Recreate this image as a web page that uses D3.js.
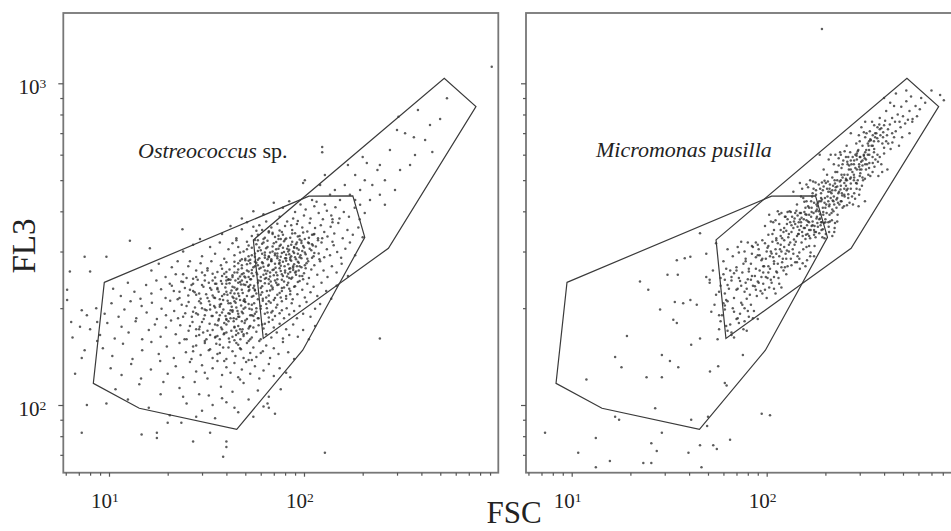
<!DOCTYPE html>
<html><head><meta charset="utf-8">
<script src="https://cdn.jsdelivr.net/npm/d3@7"></script>
<style>html,body{margin:0;padding:0;background:#fff;overflow:hidden}</style>
</head><body>
<svg id="chart" width="951" height="531"></svg>
<script>
// ---- data ----
const xMajorTicks = [10, 100];
const xMinorTicks = [6,7,8,9,20,30,40,50,60,70,80,90,200,300,400,500,600,700,800,900];
const yMajorTicks = [100, 1000];
const yMinorTicks = [70,80,90,200,300,400,500,600,700,800,900];
const xAxisLabel = "FSC";
const yAxisLabel = "FL3";
const titleItalic = ["Ostreococcus", "Micromonas pusilla"];
const titlePlain = [" sp.", ""];
// gates (FSC, FL3)
const gateA = [[9.46,240.6],[106,446],[178,447],[205,332],[98.5,148],[45.2,84],[14.3,97.7],[8.31,116.8]];
const gateB = [[55,326],[524,1036],[762,846],[271,307],[61.8,161]];

// Ostreococcus sp. events (FSC, FL3)
const ostreoPoints = [
[541,898],[499,775],[455,612],[366,680],[330,700],[300,716],[305,787],[384,826],[418,666],[350,557],[276,620],[245,557],[260,500],[210,565],[238,538],[200,590],[224,483],[183,519],[293,466],[194,466],[162,483],[172,450],[144,466],[153,434],[124,634],[194,419],[218,434],[136,450],[121,483],[110,434],[245,450],[311,538],[371,599],[443,742],[205,500],[168,557],[101,500],[128,519],[260,419],[183,434],[99,490],[124,610],[918,1126],[245,161],
[70,425],[78,410],[84,430],[90,398],[96,420],[102,405],[108,380],[113,415],[119,395],[125,378],[131,402],[138,388],[145,412],[152,380],[160,398],[170,385],[182,410],[193,378],[62,392],[88,380],[100,388],[116,428],[128,420],[140,378],[205,395],[75,385],[55,400],[48,380],
[38,340],[42,360],[45,330],[48,352],[51,370],[54,335],[57,348],[59,362],[62,328],[64,372],[66,344],[68,356],[71,333],[73,366],[75,349],[78,338],[80,360],[82,372],[85,331],[87,350],[90,342],[92,365],[95,335],[98,356],[101,328],[104,346],[107,368],[110,338],[114,355],[118,330],[122,362],[127,345],[132,334],[137,358],[143,341],[150,368],[158,330],[167,350],[178,338],[190,356],[200,332],[86,362],[76,328],[69,340],[93,373],[113,340],[61,350],[124,330],[140,370],[55,358],
[24,300],[27,315],[30,290],[33,310],[35,295],[37,320],[39,285],[41,305],[43,318],[44,292],[46,310],[48,284],[49,300],[51,322],[52,290],[54,308],[56,296],[57,316],[59,286],[60,303],[62,320],[63,292],[65,310],[67,298],[68,284],[70,318],[72,305],[73,290],[75,312],[77,297],[79,323],[80,286],[82,306],[84,294],[86,315],[88,300],[90,288],[92,320],[94,304],[96,292],[99,312],[101,298],[104,285],[106,318],[109,303],[112,290],[115,311],[119,296],[123,320],[127,288],[131,305],[136,292],[142,314],[148,299],[155,287],[163,306],[172,320],[183,292],[58,325],[66,290],[78,308],[85,283],[97,324],[110,316],[45,325],[53,283],[71,296],[89,310],[120,284],[140,322],
[16.5,262],[18,275],[19.5,250],[21,268],[22.5,280],[24,255],[25.5,270],[27,247],[28,262],[29.5,276],[31,253],[32,266],[33.5,280],[35,249],[36,259],[37.5,272],[39,256],[40,278],[41.5,264],[43,250],[44,270],[45.5,258],[47,281],[48,266],[49.5,251],[51,274],[52,260],[53.5,246],[55,268],[56,279],[57.5,255],[59,265],[60,250],[61.5,276],[63,262],[64,248],[65.5,271],[67,258],[68,280],[70,253],[71.5,267],[73,246],[74.5,275],[76,261],[78,252],[79.5,270],[81,281],[83,256],[85,266],[87,249],[89,274],[91,260],[93,279],[95,252],[97,268],[100,257],[103,276],[106,248],[109,264],[113,272],[117,254],[121,280],[126,262],[132,250],[139,270],[147,258],[156,275],[168,252],[42,245],[50,282],[58,272],[66,246],[75,282],[84,248],[92,270],[99,246],[38,265],[46,276],[54,257],[62,269],[69,263],[80,258],[88,263],[30,258],[26,280],
[10.5,230],[11.5,218],[12.5,240],[13.5,225],[14.5,214],[15.5,236],[16.5,222],[17.5,244],[18.5,229],[19.5,215],[20.5,238],[21.5,226],[22.5,213],[23.5,242],[24.5,231],[25.5,219],[26.5,236],[27.5,224],[28.5,245],[29.5,214],[30.5,233],[31.5,221],[32.5,240],[33.5,228],[34.5,216],[35.5,238],[36.5,225],[37.5,243],[38.5,212],[39.5,232],[40.5,220],[41.5,239],[42.5,227],[43.5,215],[44.5,244],[45.5,230],[46.5,218],[47.5,237],[48.5,223],[49.5,213],[51,241],[52.5,228],[54,217],[55.5,235],[57,222],[58.5,244],[60,231],[61.5,214],[63,239],[64.5,226],[66,219],[67.5,242],[69,229],[71,215],[73,236],[75,223],[77,245],[79,232],[81,218],[83,240],[85,226],[87.5,213],[90,234],[92.5,221],[95,243],[98,228],[101,216],[104,238],[108,224],[112,233],[117,218],[123,240],[130,226],[138,214],[147,235],[44,222],[52,233],[60,220],[36,231],[28,220],[68,235],[76,216],[56,228],[40,244],[48,244],
[8.6,200],[9.5,192],[10.3,207],[11.2,188],[12,198],[12.9,210],[13.8,186],[14.7,203],[15.6,194],[16.6,208],[17.6,185],[18.6,199],[19.6,190],[20.6,211],[21.6,196],[22.6,186],[23.6,205],[24.6,193],[25.6,209],[26.6,188],[27.6,201],[28.6,191],[29.6,207],[30.6,185],[31.6,197],[32.6,210],[33.6,189],[34.6,203],[35.6,194],[36.6,185],[37.6,206],[38.6,198],[39.6,189],[40.6,211],[41.6,192],[42.6,202],[43.6,186],[44.6,208],[45.6,196],[46.6,188],[47.6,204],[48.6,193],[49.6,210],[51,185],[52.5,199],[54,190],[55.5,207],[57,195],[58.5,186],[60,203],[61.5,211],[63,192],[64.5,200],[66,187],[67.5,208],[69,196],[71,189],[73,205],[75,193],[77,210],[79,186],[81.5,200],[84,191],[86.5,207],[89,196],[92,186],[95,203],[99,192],[103,209],[108,188],[114,199],[121,206],[27,195],[35,201],[43,197],[50,201],[31,190],[57,200],[65,194],[40,184],
[8,172],[9,165],[9.8,180],[10.7,161],[11.6,175],[12.6,168],[13.7,182],[14.8,160],[16,171],[17.2,178],[18.4,163],[19.6,174],[20.8,183],[22,166],[23.2,177],[24.4,160],[25.6,170],[26.8,181],[28,164],[29.2,175],[30.4,168],[31.6,160],[32.8,179],[34,171],[35.2,163],[36.4,183],[37.6,174],[38.8,166],[40,178],[41.2,161],[42.4,170],[43.6,182],[44.8,165],[46,176],[47.2,160],[48.4,172],[49.6,180],[51,167],[52.5,175],[54,162],[55.5,183],[57,169],[58.5,177],[60,160],[62,173],[64,166],[66,181],[68,162],[70,174],[72.5,168],[75,179],[78,161],[81,172],[84,165],[88,178],[93,163],[99,171],[106,160],[114,176],[29,172],[37,160],[45,170],[53,160],[61,178],[33,165],[41,182],[49,164],
[9.3,150],[10.4,142],[11.8,155],[13.2,139],[14.8,148],[16.5,157],[18,144],[19.8,152],[21.5,140],[23,156],[24.8,146],[26.5,139],[28,153],[29.5,143],[31,158],[32.5,148],[34,140],[35.5,155],[37,145],[38.5,151],[40,139],[41.5,157],[43,147],[44.5,142],[46,154],[47.5,149],[49,140],[51,156],[53,145],[55,151],[57,141],[59,158],[61.5,147],[64,153],[67,140],[70,150],[74,144],[78,157],[83,146],[89,139],[36,144],[44,159],[52,138],[27,147],[60,145],
[10.2,130],[11.6,124],[13,134],[14.6,121],[16.4,129],[18.3,137],[20,125],[22,132],[24,122],[26,136],[28,127],[30,133],[32,121],[34,130],[36,137],[38,124],[40,131],[42,126],[44,135],[46,122],[48,129],[50.5,136],[53,125],[56,132],[59,121],[62,128],[66,134],[70,123],[75,130],[81,126],[39,137],[47,120],[31,126],[54,138],[85,122],
[10.8,112],[12.5,104],[14.3,116],[16,98],[18.4,108],[20.5,93],[23,113],[25,101],[27.5,118],[30,96],[32.5,107],[35,91],[37.5,114],[40,102],[43,110],[46,95],[49,117],[52,104],[55,92],[58,111],[62,99],[66,106],[71,94],[76,112],[29,108],[34,100],[44,98],[38,105],[19,118],[24,106],
[14.7,81],[17.6,82],[17.6,79],[27,77],[33,82],[40,77],[40,74],[38.5,69],[65,101],[66,98],[128,71],[7.25,82],[7.7,100],[9.7,101],[23.5,88],[20,88],[28,92],
[7.25,197],[7.7,190],[6.4,181],[6.1,228],[6.1,212],[6.5,162],[7.25,140],[6.7,125],[7.5,148],[8.7,158],[6.3,260],[8,260],[7.1,175],[8.7,181],[7.5,289],[9.7,289],[12.8,324],[16.2,307],[23.8,352],[29.3,328],
[58,338],[63,331],[69,343],[74,336],[81,329],[87,341],[93,334],[99,344],[106,331],[112,339],[66,347],[77,345],
[52,313],[56,326],[61,317],[65,324],[69,311],[72,321],[76,315],[80,327],[83,312],[87,322],[91,316],[95,327],[100,309],[105,320],[111,313],[118,325],[59,309],[74,328],[89,308],[97,319],
[47,298],[51,305],[54,292],[58,301],[61,295],[64,307],[66,288],[69,300],[71,292],[74,306],[76,289],[79,299],[81,293],[84,304],[86,290],[89,297],[92,307],[95,288],[98,301],[102,294],[107,306],[113,297],[56,289],[63,298],[73,296],[83,300],[93,295],
[44,279],[48,272],[50,285],[53,276],[56,270],[58,283],[61,278],[63,287],[66,273],[68,281],[71,275],[73,286],[76,271],[78,279],[81,286],[83,274],[86,281],[88,270],[91,284],[94,277],[97,286],[101,272],[105,280],[110,287],[57,277],[65,284],[75,277],[85,287],[95,270],[52,281],
[40,259],[43,253],[46,264],[49,257],[52,250],[54,263],[57,258],[60,267],[62,254],[65,261],[67,251],[70,264],[72,258],[75,266],[77,255],[80,262],[82,251],[85,259],[88,267],[91,254],[94,262],[98,252],[102,266],[55,252],[73,253],[90,258],[64,256],[84,265],[47,251],
[38,238],[41,245],[44,232],[47,241],[50,236],[53,246],[55,231],[58,240],[61,234],[63,247],[66,238],[69,232],[71,244],[74,237],[77,231],[79,242],[82,236],[86,247],[89,233],[93,241],[46,247],[60,243],[72,240],[84,230],[52,233],
[34,219],[37,213],[40,225],[43,217],[46,222],[49,211],[52,226],[55,218],[58,213],[61,224],[64,216],[67,227],[70,212],[73,220],[77,226],[81,214],[85,221],[45,214],[56,227],[66,210],
[33,198],[37,205],[41,193],[45,201],[48,195],[52,206],[56,192],[60,199],[64,206],[68,194],[72,201],[77,197],[42,207],[54,198],
[35,178],[40,185],[44,174],[48,182],[53,176],[58,186],[63,179],[69,184],[46,188],[38,172],
[22,255],[24,241],[26,228],[28,250],[30,236],[32,262],[34,244],[36,229],[38,252],[40,238],[42,223],[44,258],[46,240],[48,228],[50,249],[53,236],[23,215],[25,203],[27,226],[29,210],[31,198],[33,231],[35,215],[37,202],[39,221],[41,207],[43,195],[45,228],[47,212],[49,199],[51,218],[54,205],[24,188],[26,176],[28,193],[30,181],[32,170],[34,189],[36,177],[38,194],[40,168],[42,186],[44,175],[46,192],[48,169],[50,183],[52,173],[55,189],[25,160],[27,152],[29,165],[31,156],[33,149],[35,162],[37,154],[39,167],[41,151],[43,163],[45,156],[47,150],[49,166],[52,158],[21,235],[23,225],[25,248],[27,238],[29,222],[31,244],[33,205],[35,238],[37,190],[39,180],[41,246],[43,233],[45,185],[47,172],[49,237],[51,262],[53,190],[55,174],[28,172],[30,200],[32,215],[34,256],[36,164],[38,218],[40,250],[42,197],[44,210],[46,167],[48,255],[50,209]
];

// Micromonas pusilla events (FSC, FL3)
const microPoints = [
[192,1476],
[400,900],[430,870],[460,930],[490,845],[520,880],[550,910],[470,800],[500,790],[540,820],[580,850],[610,830],[440,780],[410,820],[520,950],[590,790],[650,870],[775,920],[810,885],[700,950],[480,760],[560,775],[450,850],[620,900],[380,780],[530,770],
[270,700],[288,650],[306,730],[320,680],[333,640],[347,760],[360,700],[374,660],[387,725],[400,630],[414,690],[428,745],[441,655],[459,710],[477,640],[495,680],[513,750],[324,620],[356,625],[378,745],[405,765],[432,625],[455,760],[486,730],[297,690],[338,710],[369,675],[392,650],[419,720],[450,680],[356,740],[320,760],[257,640],[540,700],[558,760],[315,705],[383,690],[410,660],[342,665],[396,705],
[196,540],[208,580],[217,510],[225,600],[234,555],[242,520],[251,615],[259,570],[268,505],[276,590],[285,545],[293,615],[302,525],[310,575],[319,505],[327,560],[336,600],[349,530],[361,580],[374,515],[387,560],[400,605],[416,540],[230,530],[247,575],[264,540],[281,510],[298,560],[315,600],[332,520],[238,610],[255,505],[272,560],[289,595],[306,540],[323,580],[340,515],[357,550],[221,560],[213,600],[370,600],[255,590],[293,500],[268,610],[323,540],[242,545],[281,575],[310,510],[349,590],[204,520],[391,530],[187,600],[234,585],[302,590],[336,565],
[137,460],[143,420],[148,490],[154,440],[158,410],[163,475],[169,430],[173,495],[179,450],[182,415],[188,470],[192,435],[198,498],[202,420],[207,460],[211,485],[217,405],[221,445],[226,475],[232,425],[237,495],[243,455],[249,415],[255,480],[262,440],[270,470],[277,420],[287,490],[298,450],[308,480],[319,430],[152,470],[160,430],[167,500],[175,425],[185,485],[194,410],[204,470],[213,440],[223,500],[233,455],[245,410],[257,465],[266,425],[281,455],[296,415],[312,500],[179,465],[190,455],[199,440],[209,415],[219,480],[228,435],[239,468],[251,445],[196,478],[207,430],[186,430],[228,410],[217,465],[171,445],[258,500],[163,415],[274,445],[201,490],[242,430],[222,420],[192,492],[181,405],[289,470],
[98,360],[103,390],[107,340],[111,375],[114,400],[118,350],[120,330],[124,385],[127,365],[130,340],[133,398],[137,355],[139,380],[143,335],[146,370],[148,395],[152,345],[155,378],[158,328],[161,362],[165,390],[168,350],[172,372],[175,338],[179,400],[183,358],[188,380],[193,332],[197,368],[203,395],[209,345],[216,375],[223,355],[231,390],[105,372],[112,330],[119,395],[126,348],[132,370],[138,327],[144,388],[150,360],[156,398],[162,340],[169,385],[176,360],[186,342],[195,398],[207,370],[217,335],[116,365],[123,355],[135,385],[147,350],[160,375],[174,395],[189,362],[201,340],[142,402],[129,332],[167,330],[181,385],[153,335],[109,350],[140,365],[165,370],[191,350],[102,338],[134,345],[158,392],[210,390],[224,368],[179,345],[128,398],[148,377],
[67,290],[71,310],[76,275],[80,320],[84,295],[88,265],[91,305],[95,285],[98,318],[102,270],[105,300],[109,280],[112,325],[116,290],[119,268],[123,310],[126,285],[130,300],[134,272],[139,315],[144,290],[148,265],[154,305],[161,282],[168,298],[83,275],[90,315],[97,270],[104,290],[111,305],[118,315],[125,295],[132,320],[140,278],[151,320],[77,300],[60,280],[63,305],[70,268],[100,300],[107,322],[114,275],[121,285],[128,270],[137,295],[92,292],[85,310],[104,265],[112,295],[147,285],[158,270],[49,295],[55,318],[78,285],[95,325],[123,325],[136,305],[109,275],[74,322],[88,288],[102,312],[119,300],[165,312],[175,290],[62,265],
[51,240],[55,220],[60,255],[64,230],[68,215],[72,248],[77,225],[81,260],[85,235],[89,218],[94,250],[98,228],[102,258],[106,240],[111,222],[115,248],[119,232],[126,255],[53,262],[58,235],[62,212],[66,250],[71,230],[75,258],[79,214],[83,245],[88,228],[92,262],[96,238],[100,215],[105,245],[109,230],[113,258],[61,245],[70,262],[78,240],[87,252],[95,222],[57,225],[74,235],[82,220],[99,250],[65,262],[49,250],[91,240],
[54,205],[59,190],[63,210],[68,195],[72,180],[77,200],[81,188],[57,172],[61,198],[66,165],[70,185],[75,205],[79,170],[56,160],[65,178],[60,207],[86,196],[90,185],[68,162],[73,192],[63,170],[77,182],[58,182],[83,205],[52,195],
[31,254],[35,254],[22.4,242],[24.7,228],[33.8,209],[37.3,207],[40.6,212],[43.8,205],[28.4,198],[33.2,184],[34.6,180],[19.2,164],[45.5,161],[16.7,141],[29,143],[31.9,137],[18,131],[35.2,131],[24.2,122],[29,122],[51.2,127],[56.4,132],[61,117],[62.3,115],[75.5,143],[11.9,120],[26.8,97.7],[16.7,92],[17.5,90],[41,90],[7.3,82],[13.3,79],[29,82],[25.6,76],[27.3,72],[39.7,71],[45.5,75],[53.2,75],[55.5,73],[64.9,78],[10.8,71],[15.7,67],[23.3,66],[25.6,66],[13.3,64],[46.3,64],[94.3,94],[104,93],[49.5,86],[50,92],[41,154],[51,245],[40.6,289],[45.5,342],[34.6,282],[38,286],
[225,530],[245,560],[262,590],[280,520],[298,550],[318,585],[335,545],[355,610],[372,570],[250,520],[290,605],[330,600],[270,575],[310,555],[350,565],[240,600],[300,515],[380,590],
[150,445],[160,485],[172,455],[183,425],[194,465],[206,495],[218,432],[230,478],[244,448],[258,418],[270,488],[284,438],[300,468],[165,410],[178,492],[190,440],[212,460],[236,420],[250,470],[262,452],[224,488],[198,425],[174,470],[240,500],[290,488],[156,428],
[108,370],[116,392],[122,345],[128,378],[134,362],[140,395],[146,340],[151,382],[157,355],[163,372],[170,398],[176,345],[182,368],[188,392],[194,352],[200,378],[208,358],[215,395],[222,345],[118,335],[131,400],[144,358],[159,338],[172,362],[186,378],[198,330],[211,372],[125,385],[150,395],[178,332],[138,372],[165,350],[192,370],[230,372],
[72,298],[78,280],[84,312],[90,292],[96,270],[101,308],[108,288],[114,318],[120,278],[127,302],[133,285],[141,322],[147,298],[153,276],[160,310],[167,290],[176,312],[88,320],[94,282],[106,296],[117,305],[130,315],[143,278],[81,265],[99,285],[124,268],
[58,248],[63,236],[68,257],[73,243],[79,230],[84,252],[90,242],[96,258],[103,232],[109,250],[116,238],[122,262],[61,222],[70,228],[80,246],[93,226],[101,248],[112,260],[66,244],[87,234],
[57,190],[62,176],[67,200],[71,186],[76,172],[80,196],[85,186],[61,204],[74,208],[66,168],
[300,660],[325,700],[350,640],[370,730],[395,680],[420,650],[360,680],[440,700],[400,740],[335,660],
[145,340],[155,355],[165,335],[150,370],[170,360],[180,380],[160,390],[175,350],[190,370],[185,400],[200,410],[195,390],[210,420],[205,445],[220,430],[215,455],[230,440],[225,465],[240,480],[235,460],[250,490],[245,510],[260,520],[255,500],[270,540],[265,555],[280,560],[275,530],[290,580],[285,600],[300,590],[295,620],[310,640],[320,610],[330,650],[340,670],[350,690],[335,620],[305,570],[260,470],[220,400],[190,430],[170,410],[240,430],[280,500],[300,540],[320,560],[200,370],[180,420],[230,500],[260,560],[290,540],[345,640],[365,700],[380,720],[210,470],[250,450],[270,510],[315,595],[355,660]
];

// ---- layout ----
const svg = d3.select("#chart");
const W = 435, H = 459.7, TOP = 13;
const panelLeft = [63.3, 526];
const x = d3.scaleLog().domain([5.83, 992]).range([0, W]);
const y = d3.scaleLog().domain([61.6, 1654]).range([H, 0]);
const serif = "'Liberation Serif','Times New Roman',serif";
const line = d3.line().x(d => x(d[0])).y(d => y(d[1])).curve(d3.curveLinearClosed);
const datasets = [ostreoPoints, microPoints];

panelLeft.forEach((px, i) => {
  const g = svg.append("g").attr("transform", `translate(${px},${TOP})`);

  // dots
  g.append("g").selectAll("circle").data(datasets[i]).join("circle")
    .attr("cx", d => x(d[0])).attr("cy", d => y(d[1]))
    .attr("r", 1.25).attr("fill", "#2e2e2e").attr("fill-opacity", 0.78);

  // gates
  [gateA, gateB].forEach(gate => {
    g.append("path").attr("d", line(gate))
      .attr("fill", "none").attr("stroke", "#3a3a3a").attr("stroke-width", 1.2)
      .attr("stroke-linejoin", "miter");
  });

  // frame
  g.append("rect").attr("x", 0).attr("y", 0).attr("width", W).attr("height", H)
    .attr("fill", "none").attr("stroke", "#777").attr("stroke-width", 1.8);

  // ticks
  const styleAxis = sel => {
    sel.select(".domain").remove();
    sel.selectAll("line").attr("stroke", "#555").attr("stroke-width", 1.2);
    sel.selectAll("text").remove();
  };
  g.append("g").attr("transform", `translate(0,${H})`)
    .call(d3.axisBottom(x).tickValues(xMinorTicks).tickSize(3).tickFormat("")).call(styleAxis);
  g.append("g").attr("transform", `translate(0,${H})`)
    .call(d3.axisBottom(x).tickValues(xMajorTicks).tickSize(4).tickFormat("")).call(styleAxis);
  g.append("g")
    .call(d3.axisLeft(y).tickValues(yMinorTicks).tickSize(3).tickFormat("")).call(styleAxis);
  g.append("g")
    .call(d3.axisLeft(y).tickValues(yMajorTicks).tickSize(5).tickFormat("")).call(styleAxis);

  // x tick labels
  xMajorTicks.forEach(v => {
    const t = g.append("text").attr("x", x(v) - 4).attr("y", H + 35)
      .attr("text-anchor", "middle").attr("font-family", serif)
      .attr("font-size", 21).attr("fill", "#222");
    t.append("tspan").text("10");
    t.append("tspan").attr("font-size", 13.5).attr("dy", -5.5).text(Math.round(Math.log10(v)));
  });

  // y tick labels (left panel only)
  if (i === 0) {
    yMajorTicks.forEach(v => {
      const t = g.append("text").attr("x", -17).attr("y", y(v) + 11)
        .attr("text-anchor", "end").attr("font-family", serif)
        .attr("font-size", 21).attr("fill", "#222");
      t.append("tspan").text("10");
      t.append("tspan").attr("font-size", 13.5).attr("dy", -6.5).text(Math.round(Math.log10(v)));
    });
  }

  // title
  const tt = g.append("text").attr("x", i === 0 ? 74.7 : 70).attr("y", i === 0 ? 145 : 144)
    .attr("font-family", serif).attr("font-size", 22).attr("fill", "#222");
  tt.append("tspan").attr("font-style", "italic").text(titleItalic[i]);
  if (titlePlain[i]) tt.append("tspan").text(titlePlain[i]);
});

// axis titles
svg.append("text").attr("transform", "translate(35,246) rotate(-90)")
  .attr("text-anchor", "middle").attr("font-family", serif).attr("font-size", 33)
  .attr("fill", "#222").text(yAxisLabel);
svg.append("text").attr("x", 514).attr("y", 523)
  .attr("text-anchor", "middle").attr("font-family", serif).attr("font-size", 31)
  .attr("fill", "#222").text(xAxisLabel);
</script>
</body></html>
